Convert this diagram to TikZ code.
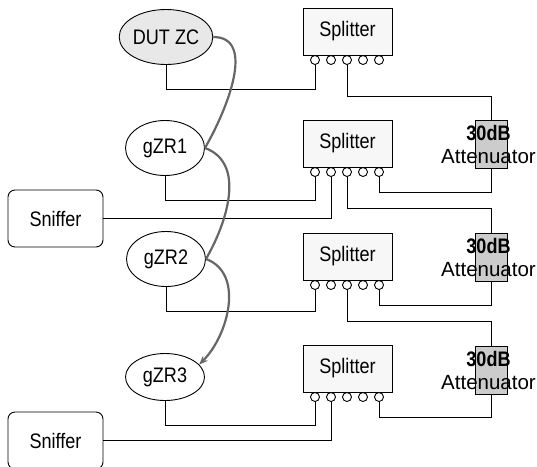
\documentclass[tikz,border=0pt]{standalone}
\usepackage{fontspec}
\setmainfont{Liberation Sans}
\newfontfamily\narrowfont{Liberation Sans}[FakeStretch=0.86]
\usetikzlibrary{shapes.geometric,arrows.meta}

\begin{document}
\begin{tikzpicture}[x=1pt,y=-1pt,
  every node/.style={font=\narrowfont\fontsize{21}{23}\selectfont},
  zcnode/.style={ellipse,draw,line width=0.9pt,minimum width=79,minimum height=55,inner sep=0pt},
  splitbox/.style={rectangle,draw,line width=0.9pt,fill=gray!6,minimum width=89,minimum height=47},
  port/.style={circle,draw,line width=0.9pt,fill=white,minimum size=9,inner sep=0pt},
  sniffbox/.style={rectangle,draw,line width=0.9pt,rounded corners=7,minimum width=95,minimum height=57},
  attbox/.style={rectangle,draw,line width=0.7pt,fill=gray!40,minimum width=32,minimum height=48},
  atttext/.style={align=center,inner sep=0pt,font=\fontsize{20.5}{23}\selectfont},
  wire/.style={line width=0.7pt},
  hop/.style={draw=black!60,line width=2.2pt}]

\useasboundingbox (0,0) rectangle (537,466);

% Zigbee nodes
\node[zcnode,fill=gray!18] (dut) at (166,37) {DUT ZC};
\node[zcnode] (zr1) at (165,148) {gZR1};
\node[zcnode] (zr2) at (166,259) {gZR2};
\node[zcnode,minimum height=47] (zr3) at (165,377) {gZR3};

% Sniffers
\node[sniffbox] (sn1) at (55.5,218.5) {Sniffer};
\node[sniffbox] (sn2) at (55.5,440.5) {Sniffer};

% Splitters with their five ports
\foreach \i/\y in {1/31.5,2/143.5,3/256.5,4/368.5}{
  \node[splitbox] (sp\i) at (347.5,\y) {Splitter};
  \foreach \k in {1,...,5}
    \node[port] (sp\i-\k) at (299+16*\k,\y+28.5) {};
}

% Attenuators
\foreach \j/\y in {1/144.5,2/257,3/370}{
  \node[attbox] (at\j) at (491,\y) {};
}

% Nodes to splitters
\draw[wire] (dut.south) -- ++(0,24) -| (sp1-1.south);
\draw[wire] (zr1.south) -- ++(0,24) -| (sp2-1.south);
\draw[wire] (zr2.south) -- ++(0,24) -| (sp3-1.south);
\draw[wire] (zr3.south) -- ++(0,24) -| (sp4-1.south);

% Sniffers to splitters
\draw[wire] (sn1.east) -| (sp2-2.south);
\draw[wire] (sn2.east) -| (sp4-2.south);

% Splitters through attenuators
\draw[wire] (sp1-3.south) -- ++(0,31) -| (at1.north);
\draw[wire] (sp2-5.south) -- ++(0,15) -| (at1.south);
\draw[wire] (sp2-3.south) -- ++(0,31) -| (at2.north);
\draw[wire] (sp3-5.south) -- ++(0,15) -| (at2.south);
\draw[wire] (sp3-3.south) -- ++(0,31) -| (at3.north);
\draw[wire] (sp4-5.south) -- ++(0,15) -| (at3.south);

% Attenuator labels
\foreach \j in {1,2,3}
  \node[atttext] (at\j t) at ([xshift=-2.5pt]at\j) {{\narrowfont\bfseries\fontsize{21}{23}\selectfont 30dB}\\Attenuator};

% Hops
\draw[hop] (dut.east) to[out=0,in=60] (zr1.east);
\draw[hop] (zr1.east) to[out=-20,in=60] (zr2.east);
\draw[hop,-{Stealth[length=9pt,width=7pt]}] (zr2.east) to[out=-20,in=45] (zr3.20);

\end{tikzpicture}
\end{document}
